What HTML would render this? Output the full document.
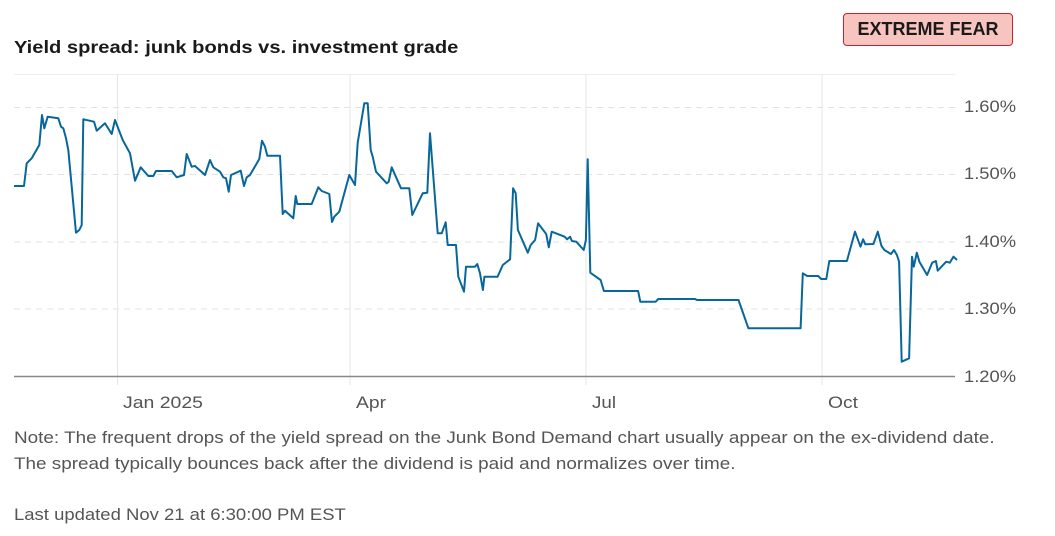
<!DOCTYPE html>
<html><head><meta charset="utf-8"><style>
body{margin:0;width:1055px;height:536px;background:#fff;font-family:"Liberation Sans",Arial,sans-serif;position:relative;overflow:hidden}
.t{position:absolute;left:14px;top:37px;font-size:17.5px;font-weight:bold;color:#1a1a1a;transform:scaleX(1.15);transform-origin:0 0;white-space:nowrap}
.b{position:absolute;left:843px;top:13px;width:168px;height:31px;background:#f8c4bf;border:1px solid #c8232c;border-radius:4px;font-size:18px;font-weight:bold;color:#1a1a1a;text-align:center;line-height:31px}
.n{position:absolute;left:14px;font-size:16.5px;color:#555;transform:scaleX(1.145);transform-origin:0 0;white-space:nowrap}
svg{position:absolute;left:0;top:0}
</style></head><body>
<div class="t">Yield spread: junk bonds vs. investment grade</div>
<div class="b">EXTREME FEAR</div>
<svg width="1055" height="420" font-family="Liberation Sans, Arial, sans-serif" font-size="16.5" fill="#555">
<line x1="14" y1="74.5" x2="955" y2="74.5" stroke="#eee"/>
<g stroke="#e2e2e2" stroke-dasharray="6,5">
<line x1="14" y1="107.5" x2="955" y2="107.5"/><line x1="14" y1="174.5" x2="955" y2="174.5"/><line x1="14" y1="242" x2="955" y2="242"/><line x1="14" y1="309" x2="955" y2="309"/></g>
<g stroke="#e6e6e6"><line x1="117.5" y1="74" x2="117.5" y2="385"/><line x1="350" y1="74" x2="350" y2="385"/><line x1="586" y1="74" x2="586" y2="385"/><line x1="822" y1="74" x2="822" y2="385"/></g>
<line x1="14" y1="376.5" x2="955" y2="376.5" stroke="#888" stroke-width="1.5"/>
<g><text x="123" y="408" textLength="80" lengthAdjust="spacingAndGlyphs">Jan 2025</text><text x="356" y="408" textLength="30" lengthAdjust="spacingAndGlyphs">Apr</text><text x="592" y="408" textLength="24" lengthAdjust="spacingAndGlyphs">Jul</text><text x="828" y="408" textLength="30" lengthAdjust="spacingAndGlyphs">Oct</text>
<g font-size="17"><text x="964" y="112" textLength="52" lengthAdjust="spacingAndGlyphs">1.60%</text><text x="964" y="179" textLength="52" lengthAdjust="spacingAndGlyphs">1.50%</text><text x="964" y="247" textLength="52" lengthAdjust="spacingAndGlyphs">1.40%</text><text x="964" y="314" textLength="52" lengthAdjust="spacingAndGlyphs">1.30%</text><text x="964" y="382" textLength="52" lengthAdjust="spacingAndGlyphs">1.20%</text></g></g>
<polyline fill="none" stroke="#08679a" stroke-width="2" stroke-linejoin="round" points="14,186 24,186 26.7,163.3 31.7,158.3 39.3,145 42,115 44.3,128.3 47.7,116.7 58.3,118.3 61,126.7 63.3,128.3 66,138.3 68.3,150 76,232.7 79.3,230 81.7,225 83.3,119.3 94,121.7 96.7,130.7 105,123.3 111.7,134 115,120 122.7,140 130,153.3 135,180.7 140.7,167.3 148.3,176 153.3,176 156,171 171.7,171 176.7,177.3 184,175 186.7,154 191.7,166.7 195,166 205,175 210,160 213.3,167.3 220,171.7 223.3,177.3 226,178.3 228.7,191.7 231,175 240.7,170.7 244,186 246.7,177.3 250,175 259.3,159 262,140.7 265,146.7 267.3,155.7 280,155.7 282.7,214 285,210.7 293.3,218.3 295.7,196 297.3,204 311.7,204 318.3,187.3 321.7,191 329.3,194 332,222 334.3,216.7 339.3,211.7 349.3,175 355,185 357.7,142.7 364.3,103.3 367.7,103.3 370.7,150 372.7,156.7 376,171.7 386.7,183.3 388.7,181.7 391.7,167.3 401,188.3 409.3,188.3 412.3,215 422.7,193.3 427.3,192.7 430,133.3 437.7,233.3 441.7,233.3 445.7,222.3 447.7,245 456,245 458.3,276.7 464,291.7 466,266.7 475,266.7 477.3,264 480,273.3 482.9,290 484.4,276.7 497.6,276.7 502.8,265 510.1,259.3 513.1,188.3 515.7,193.3 517.9,230 527.8,252.7 530.7,245 535.1,240 538.1,223.3 546.2,234 548.8,247.3 551.7,231.7 564.6,236.7 567.1,239.3 570.1,236.7 571.9,241 576.3,241.7 583.7,250 585.9,240 587.7,159.3 590.3,272.7 600.6,280 603.9,291 638.1,291 640.3,301.7 655.7,301.7 658.3,299 695.1,299 696.9,300 738.5,300 748.4,328.3 800.6,328.3 802.8,273.3 807.2,276 818.2,276 821.2,279 826.3,279 829.3,261 846.9,261 855,231.7 860.5,246.7 863.1,239.3 865.3,244.3 873.4,244 877.8,231.7 881.5,246 884.4,250 891,254 894,250 896.9,255 899.1,261.7 901.7,361.7 909.1,358.3 912,256.7 913.8,266.7 916.8,252.7 919.4,261.7 927.1,275 932.2,262.7 935.9,261 937.7,270.7 946.2,261.7 949.8,262.7 953.5,256.7 957,260"/>
</svg>
<div class="n" style="top:429px">Note: The frequent drops of the yield spread on the Junk Bond Demand chart usually appear on the ex-dividend date.</div>
<div class="n" style="top:455px">The spread typically bounces back after the dividend is paid and normalizes over time.</div>
<div class="n" style="top:506px;transform:scaleX(1.12)">Last updated Nov 21 at 6:30:00 PM EST</div>
</body></html>
